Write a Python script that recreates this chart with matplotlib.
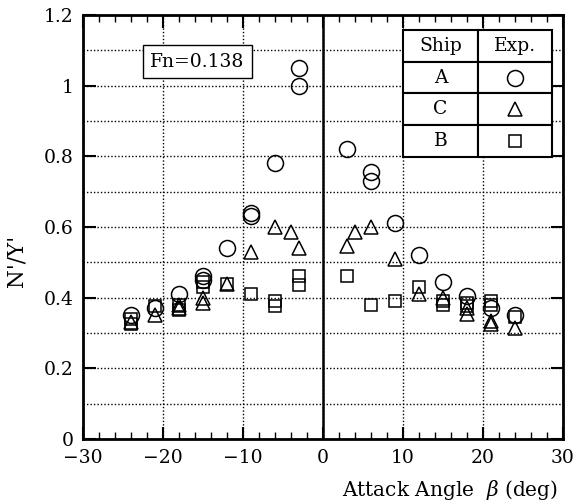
import numpy as np
import matplotlib
matplotlib.use('Agg')
import matplotlib.pyplot as plt
from matplotlib.ticker import MultipleLocator

plt.rcParams['font.family'] = 'DejaVu Serif'
plt.rcParams['mathtext.fontset'] = 'dejavuserif'

# Ship A (circles)
xa = [-24, -21, -18, -15, -15, -12, -9, -9, -6, -3, -3, 3, 6, 6, 9, 12, 15, 18, 21, 24]
ya = [0.35, 0.37, 0.41, 0.46, 0.45, 0.54, 0.64, 0.63, 0.78, 1.05, 1.00, 0.82, 0.755, 0.73,
      0.61, 0.52, 0.445, 0.405, 0.37, 0.35]

# Ship C (triangles)
xc = [-24, -21, -18, -18, -15, -15, -12, -9, -6, -4, -3, 3, 4, 6, 9, 12, 15, 18, 18, 21, 21, 24]
yc = [0.33, 0.35, 0.38, 0.37, 0.40, 0.385, 0.44, 0.53, 0.60, 0.585, 0.54, 0.545, 0.585, 0.60,
      0.51, 0.41, 0.40, 0.37, 0.355, 0.335, 0.325, 0.315]

# Ship B (squares)
xb = [-24, -24, -21, -18, -18, -15, -15, -12, -9, -6, -6, -3, -3, 3, 6, 9, 12, 15, 15, 18, 18,
      21, 21, 24]
yb = [0.34, 0.325, 0.375, 0.38, 0.365, 0.445, 0.43, 0.44, 0.41, 0.39, 0.375, 0.46, 0.435, 0.46,
      0.38, 0.39, 0.43, 0.39, 0.38, 0.385, 0.375, 0.39, 0.38, 0.345]

fig = plt.figure(figsize=(5.79, 5.01), dpi=100)
ax = fig.add_axes([0.1434, 0.1238, 0.829, 0.8462])

mk = dict(linestyle='none', markerfacecolor='none', markeredgecolor='black',
          markeredgewidth=1.1, zorder=4)
ax.plot(xa, ya, marker='o', markersize=11.5, **mk)
ax.plot(xc, yc, marker='^', markersize=9.5, **mk)
ax.plot(xb, yb, marker='s', markersize=8.5, **mk)

ax.set_xlim(-30, 30)
ax.set_ylim(0, 1.2)
ax.xaxis.set_major_locator(MultipleLocator(10))
ax.xaxis.set_minor_locator(MultipleLocator(2))
ax.yaxis.set_minor_locator(MultipleLocator(0.1))
ax.set_yticks([0, 0.2, 0.4, 0.6, 0.8, 1.0, 1.2], ['0', '0.2', '0.4', '0.6', '0.8', '1', '1.2'])

ax.grid(which='major', axis='x', linestyle=(0, (1, 1.5)), color='black', linewidth=1.0)
ax.grid(which='both', axis='y', linestyle=(0, (1, 1.5)), color='black', linewidth=1.0)
ax.axvline(0, color='black', linewidth=1.8, zorder=3)

ax.tick_params(which='both', direction='in', top=True, right=True, labelsize=13.5, pad=7)
ax.tick_params(which='major', length=9, width=1.5)
ax.tick_params(which='minor', length=5, width=1.0)
ax.tick_params(axis='y', which='minor', length=0)
for s in ax.spines.values():
    s.set_linewidth(2)

ax.set_ylabel("N'/Y'", fontsize=15.5)
ax.yaxis.set_label_coords(-0.115, 0.42)
ax.text(0.99, -0.12, r"Attack Angle  $\beta$ (deg)", transform=ax.transAxes,
        ha='right', va='center', fontsize=14.5)

ax.text(0.2385, 0.890, "Fn=0.138", transform=ax.transAxes, ha='center', va='center',
        fontsize=13.5, zorder=6,
        bbox=dict(boxstyle='square,pad=0.4', facecolor='white', edgecolor='black', linewidth=1))

# legend table
tbl = ax.table(cellText=[['Ship', 'Exp.'], ['A', ''], ['C', ''], ['B', '']],
               cellLoc='center', bbox=[0.667, 0.665, 0.31, 0.30])
tbl.auto_set_font_size(False)
tbl.set_fontsize(13.5)
tbl.set_zorder(6)
for cell in tbl.get_celld().values():
    cell.set_linewidth(1.5)
    cell.set_facecolor('white')
leg_y = [0.8525, 0.7775, 0.7025]
leg_m = [('o', 11.5), ('^', 9.5), ('s', 8.5)]
for yy, (m, ms) in zip(leg_y, leg_m):
    ax.plot([0.9], [yy], marker=m, markersize=ms, transform=ax.transAxes, clip_on=False,
            linestyle='none', markerfacecolor='none', markeredgecolor='black',
            markeredgewidth=1.1, zorder=7)

fig.savefig('out.png', dpi=100)
